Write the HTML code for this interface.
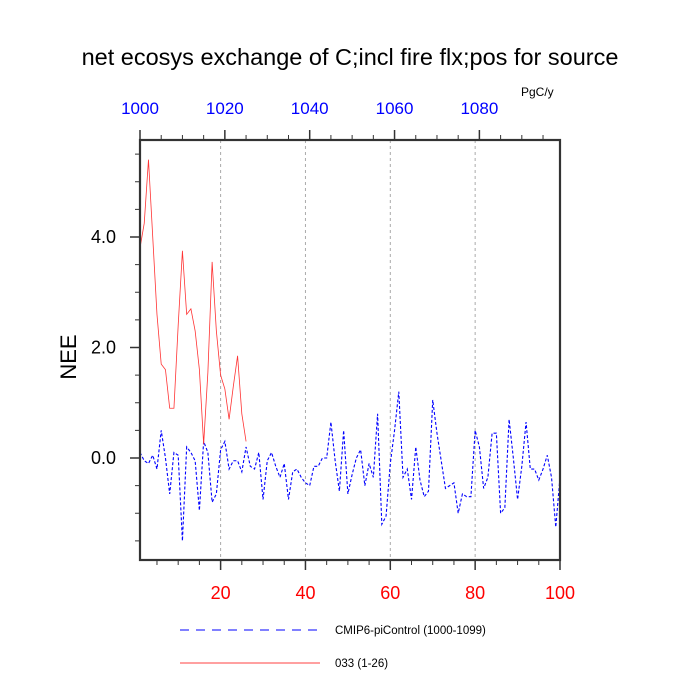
<!DOCTYPE html>
<html><head><meta charset="utf-8"><style>
body{margin:0;background:#fff;}
svg{display:block;font-family:"Liberation Sans",sans-serif;}
</style></head><body>
<svg id="chart" width="700" height="700" viewBox="0 0 700 700">
<text x="350" y="65" text-anchor="middle" font-size="23.5">net ecosys exchange of C;incl fire flx;pos for source</text>
<text x="521" y="96" font-size="12">PgC/y</text>
<text transform="translate(76,357) rotate(-90)" text-anchor="middle" font-size="22">NEE</text>
<g id="grid"></g>
<g id="series"></g>
<g id="axes"></g>
<g>
<line x1="180" y1="630" x2="320" y2="630" stroke="#00f" stroke-width="1" stroke-dasharray="9,7"/>
<text x="335" y="634" font-size="11.5">CMIP6-piControl (1000-1099)</text>
<line x1="180" y1="663" x2="320" y2="663" stroke="#f00" stroke-width="0.8"/>
<text x="335" y="667" font-size="11.5">033 (1-26)</text>
</g>
</svg>
<script>
const blueValues=[0.1,-0.05,-0.1,0.05,-0.2,0.5,0.0,-0.65,0.1,0.05,-1.5,0.2,0.1,-0.05,-0.95,0.3,0.1,-0.8,-0.65,0.15,0.3,-0.2,-0.05,-0.05,-0.25,0.2,-0.15,-0.2,0.1,-0.75,-0.05,0.1,-0.15,-0.35,-0.1,-0.75,-0.25,-0.2,-0.35,-0.45,-0.5,-0.15,-0.15,0.0,0.0,0.65,-0.05,-0.6,0.5,-0.65,-0.3,0.0,0.15,-0.5,-0.1,-0.35,0.8,-1.2,-1.05,-0.1,0.5,1.2,-0.35,-0.2,-0.75,0.2,-0.4,-0.7,-0.6,1.05,0.45,-0.05,-0.55,-0.5,-0.45,-1.0,-0.65,-0.7,-0.7,0.5,0.2,-0.55,-0.35,0.45,0.45,-1.0,-0.9,0.7,0.0,-0.75,-0.15,0.65,-0.2,-0.2,-0.4,-0.2,0.05,-0.35,-1.25,-0.35];
const redValues=[3.8,4.25,5.4,4.0,2.6,1.7,1.6,0.9,0.9,2.4,3.75,2.6,2.7,2.3,1.6,0.25,1.55,3.55,2.3,1.5,1.25,0.7,1.3,1.85,0.8,0.3];
const yTicks=[0,2,4];
const yTickLabels=["0.0","2.0","4.0"];
const xTicks=[20,40,60,80,100];
const topTicks=[1000,1020,1040,1060,1080];
const L=140,R=560,T=140,B=560;
const xScale=v=>L+(v-1)*(R-L)/99;
const topScale=v=>L+(v-1000)*(R-L)/99;
const yScale=v=>458-v*55.25;
const NS="http://www.w3.org/2000/svg";
function mk(tag,attrs,parent){const e=document.createElementNS(NS,tag);for(const k in attrs)e.setAttribute(k,attrs[k]);parent.appendChild(e);return e;}
const grid=document.getElementById('grid'),axes=document.getElementById('axes'),series=document.getElementById('series');
xTicks.forEach(v=>{if(v<100){const g=mk('line',{x1:xScale(v),x2:xScale(v),y1:T,y2:B,stroke:'#aaa','stroke-dasharray':'3,3','stroke-width':1},grid);

}});
function poly(vals,color,dash,w,name){const pts=vals.map((v,i)=>xScale(i+1).toFixed(2)+','+yScale(v).toFixed(2)).join(' ');
const p=mk('polyline',{points:pts,fill:'none',stroke:color,'stroke-width':w},series);if(dash)p.setAttribute('stroke-dasharray',dash);

}
poly(blueValues,'#00f','3,2',1.1,'series-cmip6-picontrol');
poly(redValues,'#f33',null,0.8,'series-033');
const frame=mk('rect',{x:L,y:T,width:R-L,height:B-T,fill:'none',stroke:'#333','stroke-width':2.2},axes);


for(let v=5;v<=100;v+=5){const major=v%20===0;const t=mk('line',{x1:xScale(v),x2:xScale(v),y1:B,y2:B+(major?10:5),stroke:'#333','stroke-width':major?1.5:1},axes);

}
xTicks.forEach(v=>{const t=mk('text',{x:xScale(v),y:599,'text-anchor':'middle','font-size':18,fill:'#f00'},axes);t.textContent=v;

});
for(let v=1000;v<=1095;v+=5){const major=v%20===0;const t=mk('line',{x1:topScale(v),x2:topScale(v),y1:T,y2:T-(major?10:5),stroke:'#333','stroke-width':major?1.5:1},axes);

}
topTicks.forEach(v=>{const t=mk('text',{x:topScale(v),y:114,'text-anchor':'middle','font-size':17,fill:'#00f'},axes);t.textContent=v;

});
for(let v=-1.5;v<=5.5;v+=0.5){const major=Math.abs(v%2)<1e-9;const t=mk('line',{x1:L,x2:L-(major?10:5),y1:yScale(v),y2:yScale(v),stroke:'#333','stroke-width':major?1.5:1},axes);

}
yTicks.forEach((v,i)=>{const t=mk('text',{x:116,y:yScale(v)+6,'text-anchor':'end','font-size':18},axes);t.textContent=yTickLabels[i];

});
</script>
</body></html>
